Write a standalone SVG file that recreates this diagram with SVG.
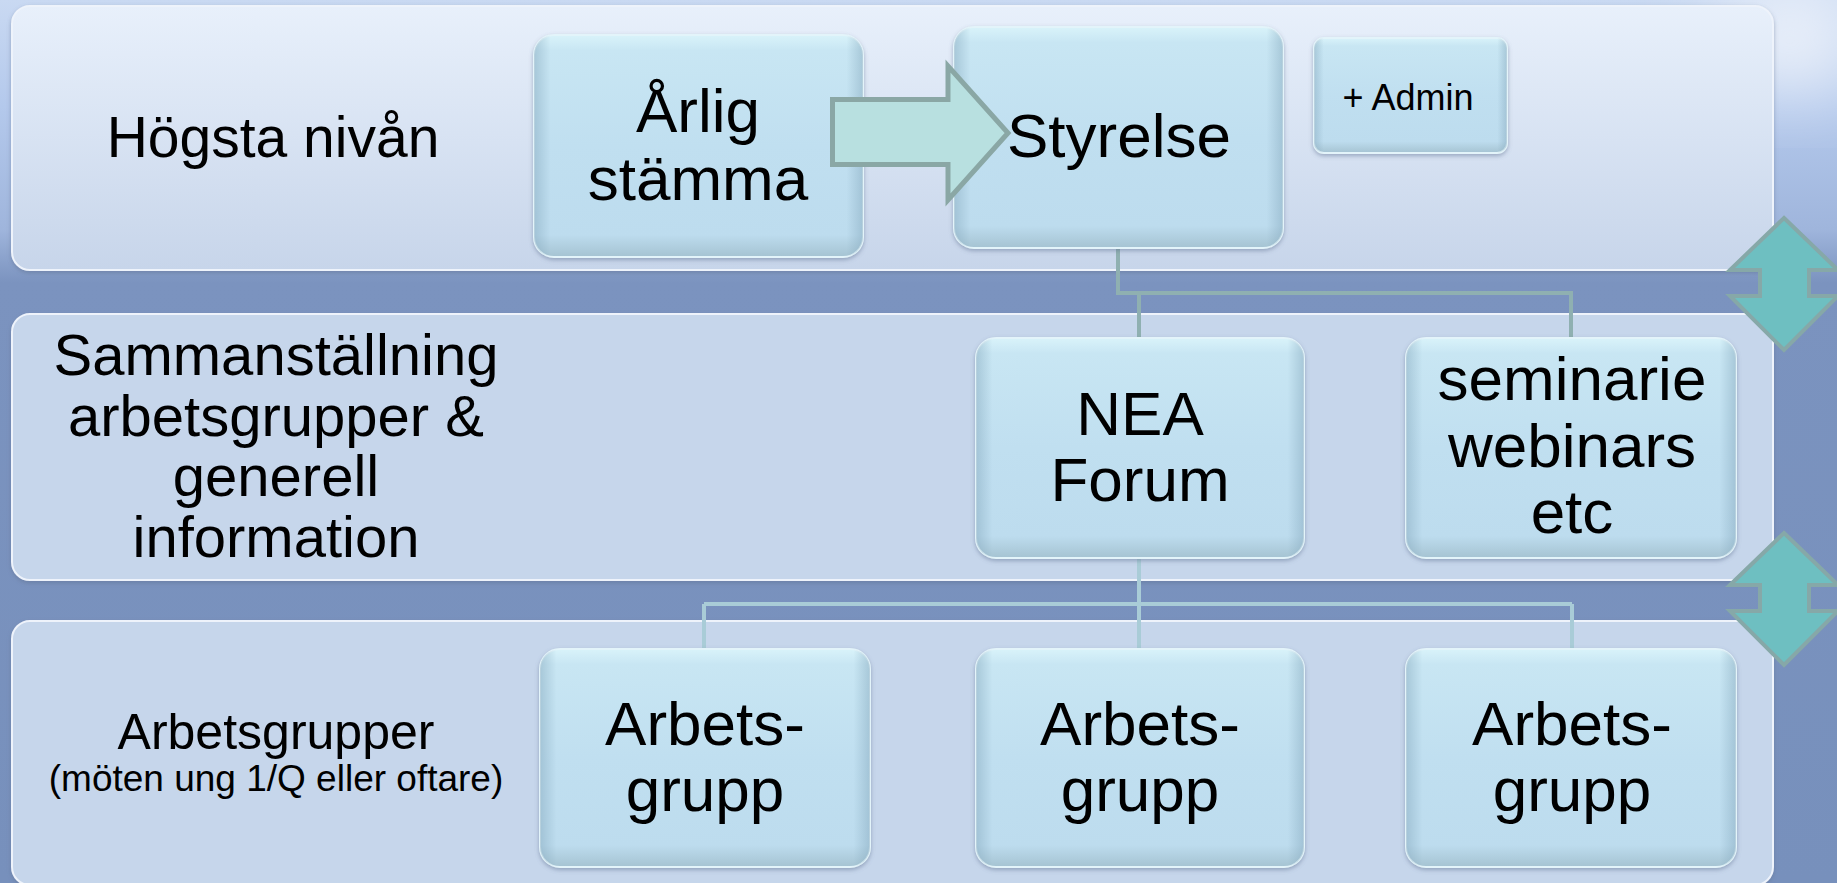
<svg xmlns="http://www.w3.org/2000/svg" width="1837" height="883" viewBox="0 0 1837 883">
  <defs>
    <linearGradient id="bgGrad" x1="0" y1="0" x2="0" y2="1">
      <stop offset="0" stop-color="#c9d9f2"/>
      <stop offset="0.12" stop-color="#b4c9ec"/>
      <stop offset="0.26" stop-color="#9fb5dc"/>
      <stop offset="0.32" stop-color="#7b93bf"/>
      <stop offset="1" stop-color="#7790bc"/>
    </linearGradient>
    <radialGradient id="shine" cx="0.5" cy="0.5" r="0.5">
      <stop offset="0" stop-color="#ffffff" stop-opacity="0.85"/>
      <stop offset="1" stop-color="#ffffff" stop-opacity="0"/>
    </radialGradient>
    <linearGradient id="topBand" x1="0" y1="0" x2="0" y2="1">
      <stop offset="0" stop-color="#e8f0fb"/>
      <stop offset="1" stop-color="#c7d5ea"/>
    </linearGradient>
    <linearGradient id="nodeGrad" x1="0" y1="0" x2="0" y2="1">
      <stop offset="0" stop-color="#d9f3fa"/>
      <stop offset="0.07" stop-color="#c8e6f3"/>
      <stop offset="0.5" stop-color="#c0dff0"/>
      <stop offset="0.9" stop-color="#bddcee"/>
      <stop offset="1" stop-color="#a5c3d2"/>
    </linearGradient>
    <linearGradient id="sideGrad" x1="0" y1="0" x2="1" y2="0">
      <stop offset="0" stop-color="#7fa3b8" stop-opacity="0.45"/>
      <stop offset="0.05" stop-color="#7fa3b8" stop-opacity="0"/>
      <stop offset="0.95" stop-color="#7fa3b8" stop-opacity="0"/>
      <stop offset="1" stop-color="#7fa3b8" stop-opacity="0.45"/>
    </linearGradient>
    <filter id="shadow" x="-10%" y="-10%" width="120%" height="130%">
      <feGaussianBlur in="SourceAlpha" stdDeviation="2"/>
      <feOffset dy="2" result="b"/>
      <feFlood flood-color="#5e7090" flood-opacity="0.5"/>
      <feComposite in2="b" operator="in"/>
      <feMerge><feMergeNode/><feMergeNode in="SourceGraphic"/></feMerge>
    </filter>
    <filter id="blur40"><feGaussianBlur stdDeviation="30"/></filter>
    <style>
      .band { stroke: #eef3fb; stroke-width: 2; filter: url(#shadow); }
      .midband { fill: #c6d6eb; }
      .box { fill: url(#nodeGrad); stroke: #e3f4fa; stroke-width: 2; filter: url(#shadow); }
      .side { fill: url(#sideGrad); }
      .t { font-family: "Liberation Sans", Arial, sans-serif; fill: #000; text-anchor: middle; }
      .big { font-size: 62px; }
      .lbl { font-size: 57px; }
      .conTop { fill: none; stroke: #8fb0b1; stroke-width: 4; }
      .conBot { fill: none; stroke: #a9ccd7; stroke-width: 4; }
      .dbl { fill: #6ebfc1; stroke: #86a8a8; stroke-width: 4; stroke-linejoin: miter; }
      .rarr { fill: #b8e0e0; stroke: #8aa7a5; stroke-width: 5; stroke-linejoin: miter; }
    </style>
  </defs>

  <!-- background -->
  <rect x="0" y="0" width="1837" height="883" fill="url(#bgGrad)"/>
  <ellipse cx="1790" cy="40" rx="120" ry="90" fill="url(#shine)" filter="url(#blur40)"/>

  <!-- bands -->
  <g id="band-top">
    <rect class="band" x="12" y="6" width="1761" height="264" rx="18" fill="url(#topBand)"/>
    <text class="t lbl" x="273" y="157">Högsta nivån</text>
  </g>
  <g id="band-middle">
    <rect class="band midband" x="12" y="314" width="1761" height="266" rx="18"/>
    <text class="t" font-size="58" x="276" y="375">Sammanställning</text>
    <text class="t" font-size="58" x="276" y="436">arbetsgrupper &amp;</text>
    <text class="t" font-size="58" x="276" y="496">generell</text>
    <text class="t" font-size="58" x="276" y="557">information</text>
  </g>
  <g id="band-bottom">
    <rect class="band midband" x="12" y="621" width="1761" height="264" rx="18"/>
    <text class="t" font-size="50" x="276" y="749">Arbetsgrupper</text>
    <text class="t" font-size="37" x="276" y="791">(möten ung 1/Q eller oftare)</text>
  </g>

  <!-- connectors -->
  <g id="connectors">
    <path class="conTop" d="M1118,248 V293 H1571 V338 M1139,293 V338"/>
    <path class="conBot" d="M1139,558 V604 M704,604 H1572 M704,604 V649 M1139,604 V649 M1572,604 V649"/>
  </g>

  <!-- nodes -->
  <g id="node-arlig">
    <rect class="box" x="534" y="35" width="329" height="222" rx="20"/>
    <rect class="side" x="534" y="35" width="329" height="222" rx="20"/>
    <text class="t big" x="698" y="132">Årlig</text>
    <text class="t big" x="698" y="200">stämma</text>
  </g>
  <g id="node-styrelse">
    <rect class="box" x="954" y="27" width="329" height="221" rx="20"/>
    <rect class="side" x="954" y="27" width="329" height="221" rx="20"/>
    <text class="t big" x="1119" y="157">Styrelse</text>
  </g>
  <g id="node-admin">
    <rect class="box" x="1314" y="38" width="193" height="115" rx="10"/>
    <rect class="side" x="1314" y="38" width="193" height="115" rx="10"/>
    <text class="t" font-size="36" x="1408" y="110">+ Admin</text>
  </g>
  <g id="node-nea">
    <rect class="box" x="976" y="338" width="328" height="220" rx="20"/>
    <rect class="side" x="976" y="338" width="328" height="220" rx="20"/>
    <text class="t big" x="1140" y="435">NEA</text>
    <text class="t big" x="1140" y="501">Forum</text>
  </g>
  <g id="node-seminarie">
    <rect class="box" x="1406" y="338" width="330" height="220" rx="20"/>
    <rect class="side" x="1406" y="338" width="330" height="220" rx="20"/>
    <text class="t big" x="1572" y="400">seminarie</text>
    <text class="t big" x="1572" y="467">webinars</text>
    <text class="t big" x="1572" y="533">etc</text>
  </g>
  <g id="node-ag1">
    <rect class="box" x="540" y="649" width="330" height="218" rx="20"/>
    <rect class="side" x="540" y="649" width="330" height="218" rx="20"/>
    <text class="t big" x="705" y="745">Arbets-</text>
    <text class="t big" x="705" y="811">grupp</text>
  </g>
  <g id="node-ag2">
    <rect class="box" x="976" y="649" width="328" height="218" rx="20"/>
    <rect class="side" x="976" y="649" width="328" height="218" rx="20"/>
    <text class="t big" x="1140" y="745">Arbets-</text>
    <text class="t big" x="1140" y="811">grupp</text>
  </g>
  <g id="node-ag3">
    <rect class="box" x="1406" y="649" width="330" height="218" rx="20"/>
    <rect class="side" x="1406" y="649" width="330" height="218" rx="20"/>
    <text class="t big" x="1572" y="745">Arbets-</text>
    <text class="t big" x="1572" y="811">grupp</text>
  </g>

  <!-- arrows -->
  <g id="arrow-arlig-styrelse">
    <polygon class="rarr" points="832.5,99.5 948,99.5 948,66 1008,133 948,200 948,164.5 832.5,164.5"/>
  </g>
  <g id="arrow-updown-1">
    <polygon class="dbl" points="1784,218 1838,270 1809,270 1809,296 1838,296 1784,350 1730,296 1760,296 1760,270 1730,270"/>
  </g>
  <g id="arrow-updown-2">
    <polygon class="dbl" points="1784,533 1838,585 1809,585 1809,611 1838,611 1784,665 1730,611 1760,611 1760,585 1730,585"/>
  </g>
</svg>
